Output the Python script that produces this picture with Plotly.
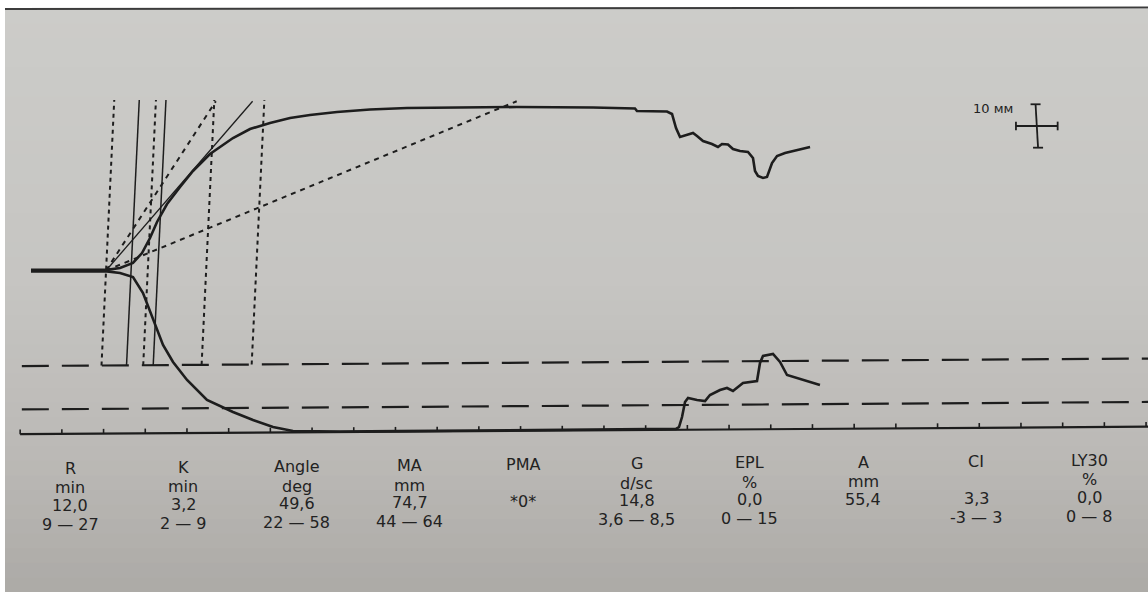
import numpy as np
import plotly.graph_objects as go

# ---------------- TEG trace: time (min) and half-amplitude (mm) ----------------
UPPER_T = [0.0, 9.11, 10.67, 12.23, 13.31, 14.27, 15.11, 16.31, 17.87, 19.42,
           21.46, 24.22, 26.26, 28.66, 31.06, 33.45, 36.69, 40.65, 45.08, 51.08,
           58.27, 67.39, 72.42, 72.66, 76.26, 76.86, 77.34, 77.82, 78.66, 79.38,
           79.86, 80.58, 81.65, 82.37, 82.85, 83.57, 84.17, 85.01, 85.97, 86.57,
           86.81, 87.17, 87.77, 88.25, 88.85, 89.45, 90.41, 91.37, 92.21, 93.17,
           93.41]
UPPER_A = [0.15, 0.15, 0.58, 1.73, 4.03, 7.49, 11.18, 15.32, 19.24, 22.93,
           26.84, 30.53, 32.60, 33.99, 35.14, 35.83, 36.52, 37.10, 37.44, 37.56,
           37.67, 37.56, 37.33, 36.75, 36.64, 36.06, 32.83, 30.76, 31.22, 31.68,
           30.99, 29.84, 29.15, 28.46, 29.15, 29.03, 27.99, 27.53, 27.30, 25.92,
           22.93, 21.77, 21.31, 21.54, 24.77, 26.38, 27.07, 27.53, 27.76, 28.23,
           28.46]

LOWER_T = [0.0, 9.11, 10.67, 12.23, 13.43, 14.63, 15.83, 17.03, 18.71, 21.10,
           24.22, 26.62, 29.02, 31.41, 37.05, 44.24, 56.24, 68.23, 77.34, 77.70,
           78.06, 78.42, 78.78, 79.86, 80.82, 81.41, 82.61, 83.45, 84.17, 85.37,
           87.05, 87.41, 87.77, 88.97, 89.81, 90.65, 91.85, 93.41, 94.60]
LOWER_A = [-0.20, -0.20, -0.58, -1.50, -5.18, -11.41, -17.17, -21.08, -25.23, -29.84,
           -32.60, -34.45, -36.06, -36.98, -37.10, -37.00, -36.80, -36.60, -36.50, -36.06,
           -33.76, -30.30, -29.38, -29.84, -30.07, -28.69, -27.53, -27.07, -27.76, -25.92,
           -25.46, -21.31, -19.70, -19.24, -21.08, -24.08, -24.77, -25.69, -26.38]

# ---------------- results table ----------------
PARAM_NAMES = ["R", "K", "Angle", "MA", "PMA", "G", "EPL", "A", "CI", "LY30"]
PARAM_UNITS = ["min", "min", "deg", "mm", "", "d/sc", "%", "mm", "", "%"]
PARAM_VALUES = [12.0, 3.2, 49.6, 74.7, None, 14.8, 0.0, 55.4, 3.3, 0.0]
PARAM_RANGES = [(9, 27), (2, 9), (22, 58), (44, 64), None, (3.6, 8.5),
                (0, 15), None, (-3, 3), (0, 8)]
PMA_TEXT = "*0*"

R, K, ANGLE, MA = PARAM_VALUES[0], PARAM_VALUES[1], PARAM_VALUES[2], PARAM_VALUES[3]
R_RANGE, K_RANGE, ANGLE_RANGE, MA_RANGE = PARAM_RANGES[0], PARAM_RANGES[1], PARAM_RANGES[2], PARAM_RANGES[3]

MM_PER_MIN = 2.0          # chart speed
TICK_START, TICK_STEP = -1.3, 5.0
SCALE_MM = 10

# ---------------- page geometry ----------------
W, H = 1148, 592
PX_PER_MIN = 8.34
PX_PER_MM = 4.34
X0_PX, Y0_PX = 31.0, 270.5
X_RANGE = [-X0_PX / PX_PER_MIN, (W - X0_PX) / PX_PER_MIN]
Y_RANGE = [-(H - Y0_PX) / PX_PER_MM, Y0_PX / PX_PER_MM]

SKEW = 0.025        # print slant (min per mm)
ROLL = 0.0128       # print roll (mm per min)
BASE_LEVEL = -37.7
MARKER_TOP = 39.3
ANGLE_TOP = 39.0

INK = "#1d1d1d"
TEXT = "#222222"


def level(a0, t):
    return a0 + ROLL * np.asarray(t, dtype=float)


def fmt(v):
    if float(v).is_integer():
        return str(int(v))
    return f"{v:.1f}".replace(".", ",")


fig = go.Figure()

# baseline with time ticks
t_end = X_RANGE[1] + 2
fig.add_trace(go.Scatter(x=[TICK_START, t_end], y=level(BASE_LEVEL, [TICK_START, t_end]),
                         mode="lines", line=dict(color=INK, width=2.2), hoverinfo="skip"))
tx, ty = [], []
for t in np.arange(TICK_START, X_RANGE[1], TICK_STEP):
    b = float(level(BASE_LEVEL, t))
    tx += [t, t, None]
    ty += [b, b + 1.1, None]
fig.add_trace(go.Scatter(x=tx, y=ty, mode="lines", line=dict(color=INK, width=1.6),
                         hoverinfo="skip"))

# MA normal-range lines (half amplitude below the centre line)
for ma in MA_RANGE:
    fig.add_trace(go.Scatter(x=[TICK_START + 0.2, t_end],
                             y=level(-ma / 2, [TICK_START + 0.2, t_end]),
                             mode="lines", line=dict(color=INK, width=2.2, dash="27px,13px"),
                             hoverinfo="skip"))

# R / K marker lines
markers = [
    (R_RANGE[0], "dot"), (R, "solid"), (R + K_RANGE[0], "dot"),
    (R + K, "solid"), (R + K_RANGE[1], "dot"), (R_RANGE[1], "dot"),
]
for t, style in markers:
    bottom = float(level(-MA_RANGE[0] / 2, t))
    xs = [t + SKEW * bottom, t + SKEW * MARKER_TOP]
    if style == "solid":
        line = dict(color=INK, width=1.5)
    else:
        line = dict(color=INK, width=2.0, dash="4px,4px")
    fig.add_trace(go.Scatter(x=xs, y=[bottom, MARKER_TOP], mode="lines", line=line,
                             hoverinfo="skip"))

# angle lines from the start of clot formation
for ang in [ANGLE_RANGE[0], ANGLE, ANGLE_RANGE[1]]:
    dt = ANGLE_TOP / np.tan(np.radians(ang)) / MM_PER_MIN
    xs = [R_RANGE[0], R_RANGE[0] + dt + SKEW * ANGLE_TOP]
    if ang == ANGLE:
        line = dict(color=INK, width=1.3)
    else:
        line = dict(color=INK, width=2.0, dash="5px,5px")
    fig.add_trace(go.Scatter(x=xs, y=[0, ANGLE_TOP], mode="lines", line=line,
                             hoverinfo="skip"))

# the tracing itself
fig.add_trace(go.Scatter(x=UPPER_T, y=UPPER_A, mode="lines",
                         line=dict(color=INK, width=2.6), hoverinfo="skip"))
fig.add_trace(go.Scatter(x=LOWER_T, y=LOWER_A, mode="lines",
                         line=dict(color=INK, width=2.6), hoverinfo="skip"))

# 10 mm scale cross
cx, cy = 120.6, 33.3
hw = SCALE_MM / 2 / MM_PER_MIN
hh = SCALE_MM / 2
cap_t, cap_a = 0.6, 1.0
sx = [cx - hw, cx + hw, None, cx - 0.15, cx + 0.15, None,
      cx - cap_t - 0.15, cx + cap_t - 0.15, None, cx - cap_t + 0.15, cx + cap_t + 0.15, None,
      cx - hw, cx - hw, None, cx + hw, cx + hw]
sy = [cy, cy, None, cy + hh, cy - hh, None,
      cy + hh, cy + hh, None, cy - hh, cy - hh, None,
      cy - cap_a, cy + cap_a, None, cy - cap_a, cy + cap_a]
fig.add_trace(go.Scatter(x=sx, y=sy, mode="lines", line=dict(color=INK, width=1.8),
                         hoverinfo="skip"))

annotations = [dict(x=993 / W, y=1 - 108 / H, xref="paper", yref="paper",
                    text="10 мм", showarrow=False, xanchor="center", yanchor="middle",
                    font=dict(family="DejaVu Sans", size=13, color=TEXT))]

# results table
col_x0, col_dx = 70, 113.3
row_off = [0, 19.5, 37.0, 56.0]
for i, name in enumerate(PARAM_NAMES):
    x_px = col_x0 + i * col_dx
    y0 = 468.3 - 0.9 * i
    v = PARAM_VALUES[i]
    val = PMA_TEXT if v is None else f"{v:.1f}".replace(".", ",")
    rng = "" if PARAM_RANGES[i] is None else f"{fmt(PARAM_RANGES[i][0])} — {fmt(PARAM_RANGES[i][1])}"
    for r, txt in enumerate([name, PARAM_UNITS[i], val, rng]):
        if not txt:
            continue
        annotations.append(dict(x=x_px / W, y=1 - (y0 + row_off[r]) / H,
                                xref="paper", yref="paper", text=txt, showarrow=False,
                                xanchor="center", yanchor="middle",
                                font=dict(family="DejaVu Sans", size=16, color=TEXT)))

# paper background: graded grey sheet on white, with top edge shadow
shapes = []
stops = [(0.0, (204, 204, 201)), (0.45, (198, 197, 194)), (0.75, (188, 186, 183)),
         (1.0, (172, 170, 166))]
n_bands = 40
top, left = 9, 5
for k in range(n_bands):
    f = (k + 0.5) / n_bands
    for (f0, c0), (f1, c1) in zip(stops[:-1], stops[1:]):
        if f0 <= f <= f1:
            w = (f - f0) / (f1 - f0)
            col = tuple(int(round(c0[j] + w * (c1[j] - c0[j]))) for j in range(3))
            break
    ya = top + k * (H - top) / n_bands
    yb = top + (k + 1) * (H - top) / n_bands + 1
    shapes.append(dict(type="rect", xref="paper", yref="paper", layer="below",
                       x0=left / W, x1=1, y0=1 - yb / H, y1=1 - ya / H,
                       fillcolor=f"rgb{col}", line=dict(width=0)))
shapes.append(dict(type="line", xref="paper", yref="paper", layer="below",
                   x0=left / W, x1=1, y0=1 - 9 / H, y1=1 - 7.5 / H,
                   line=dict(color="#3c3c3c", width=2)))

fig.update_layout(
    width=W, height=H, autosize=False,
    margin=dict(l=0, r=0, t=0, b=0),
    paper_bgcolor="white", plot_bgcolor="rgba(0,0,0,0)",
    showlegend=False,
    xaxis=dict(range=X_RANGE, visible=False, fixedrange=True),
    yaxis=dict(range=Y_RANGE, visible=False, fixedrange=True),
    annotations=annotations, shapes=shapes,
)

fig.write_html("out.html", config={"displayModeBar": False})
